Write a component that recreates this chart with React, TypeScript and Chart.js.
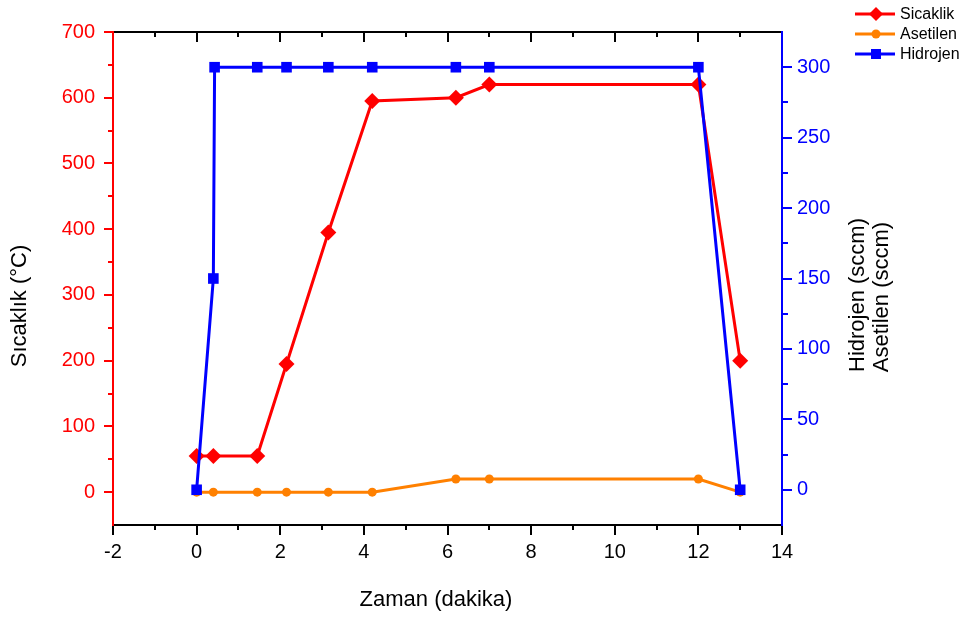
import { useEffect, useRef } from "react";
import { Chart, registerables } from "chart.js";

Chart.register(...registerables);

// ---- data ----
const sicaklikTime = [0, 0.4, 1.45, 2.15, 3.15, 4.2, 6.2, 7, 12, 13];
const sicaklikValues = [55, 55, 55, 195, 395, 595, 600, 620, 620, 200];

const asetilenTime = [0, 0.4, 1.45, 2.15, 3.15, 4.2, 6.2, 7, 12, 13];
const asetilenValues = [0, 0, 0, 0, 0, 0, 20, 20, 20, 0];

const hidrojenTime = [0, 0.4, 0.43, 1.45, 2.15, 3.15, 4.2, 6.2, 7, 12, 13];
const hidrojenValues = [0, 150, 300, 300, 300, 300, 300, 300, 300, 300, 0];

// ---- tick labels ----
const xMajor = [-2, 0, 2, 4, 6, 8, 10, 12, 14];
const xMinor = [-1, 1, 3, 5, 7, 9, 11, 13];
const leftMajor = [0, 100, 200, 300, 400, 500, 600, 700];
const leftMinor = [50, 150, 250, 350, 450, 550, 650];
const rightMajor = [0, 50, 100, 150, 200, 250, 300];
const rightMinor = [25, 75, 125, 175, 225, 275];

const RED = "#FF0000";
const ORANGE = "#FF8000";
const BLUE = "#0000FF";
const FONT = "'Liberation Sans', Arial, sans-serif";

const toPoints = (xs: number[], ys: number[]) => xs.map((x, i) => ({ x, y: ys[i] }));

const framePlugin = {
  id: "frame",
  beforeDatasetsDraw(chart: any) {
    const { ctx, chartArea, scales } = chart;
    const { left, right, top, bottom } = chartArea;
    const line = (x1: number, y1: number, x2: number, y2: number, c: string) => {
      ctx.strokeStyle = c;
      ctx.beginPath();
      ctx.moveTo(x1, y1);
      ctx.lineTo(x2, y2);
      ctx.stroke();
    };
    ctx.save();
    ctx.lineWidth = 2;
    xMajor.forEach((v) => {
      const p = Math.round(scales.x.getPixelForValue(v));
      line(p, bottom, p, bottom + 10, "#000");
      line(p, top, p, top + 10, "#000");
    });
    xMinor.forEach((v) => {
      const p = Math.round(scales.x.getPixelForValue(v));
      line(p, bottom, p, bottom + 5, "#000");
      line(p, top, p, top + 5, "#000");
    });
    leftMajor.forEach((v) => {
      const p = Math.round(scales.y.getPixelForValue(v));
      line(left - 9, p, left, p, RED);
    });
    leftMinor.forEach((v) => {
      const p = Math.round(scales.y.getPixelForValue(v));
      line(left - 5, p, left, p, RED);
    });
    rightMajor.forEach((v) => {
      const p = Math.round(scales.y2.getPixelForValue(v));
      line(right, p, right + 10, p, BLUE);
    });
    rightMinor.forEach((v) => {
      const p = Math.round(scales.y2.getPixelForValue(v));
      line(right, p, right + 6, p, BLUE);
    });
    line(left, top, right, top, "#000");
    line(left, bottom, right, bottom, "#000");
    line(left, top - 1, left, bottom + 1, RED);
    line(right, top - 1, right, bottom + 1, BLUE);
    ctx.restore();
  },
  afterDraw(chart: any) {
    const { ctx } = chart;
    ctx.save();
    ctx.fillStyle = "#000";
    ctx.textAlign = "center";
    ctx.textBaseline = "middle";
    ctx.font = `22px ${FONT}`;
    ctx.fillText("Zaman (dakika)", 436, 600);
    const vtext = (t: string, x: number, y: number) => {
      ctx.save();
      ctx.translate(x, y);
      ctx.rotate(-Math.PI / 2);
      ctx.fillText(t, 0, 0);
      ctx.restore();
    };
    vtext("Sıcaklık (°C)", 20, 306);
    vtext("Hidrojen (sccm)", 858, 295);
    vtext("Asetilen (sccm)", 882, 297);

    // legend
    const rows = [
      { label: "Sicaklik", color: RED, shape: "diamond", y: 14 },
      { label: "Asetilen", color: ORANGE, shape: "circle", y: 34 },
      { label: "Hidrojen", color: BLUE, shape: "square", y: 54 },
    ];
    ctx.font = `16px ${FONT}`;
    ctx.textAlign = "left";
    rows.forEach((r) => {
      ctx.strokeStyle = r.color;
      ctx.fillStyle = r.color;
      ctx.lineWidth = 3;
      ctx.beginPath();
      ctx.moveTo(855, r.y);
      ctx.lineTo(895, r.y);
      ctx.stroke();
      const cx = 876;
      ctx.beginPath();
      if (r.shape === "diamond") {
        ctx.moveTo(cx, r.y - 7);
        ctx.lineTo(cx + 7, r.y);
        ctx.lineTo(cx, r.y + 7);
        ctx.lineTo(cx - 7, r.y);
        ctx.closePath();
      } else if (r.shape === "circle") {
        ctx.arc(cx, r.y, 4.5, 0, Math.PI * 2);
      } else {
        ctx.rect(cx - 5, r.y - 5, 10, 10);
      }
      ctx.fill();
      ctx.fillStyle = "#000";
      ctx.fillText(r.label, 900, r.y + 1);
    });
    ctx.restore();
  },
};

export default function App() {
  const ref = useRef<HTMLCanvasElement>(null);
  useEffect(() => {
    const hiddenGrid = { display: true, drawOnChartArea: false, drawTicks: false };
    const chart = new Chart(ref.current!, {
      type: "line",
      data: {
        datasets: [
          {
            label: "Hidrojen",
            data: toPoints(hidrojenTime, hidrojenValues),
            yAxisID: "y2",
            borderColor: BLUE,
            backgroundColor: BLUE,
            borderWidth: 3,
            pointStyle: "rect",
            pointRadius: 7.5,
            pointBorderWidth: 0,
            order: 0,
          },
          {
            label: "Sicaklik",
            data: toPoints(sicaklikTime, sicaklikValues),
            yAxisID: "y",
            borderColor: RED,
            backgroundColor: RED,
            borderWidth: 3,
            pointStyle: "rectRot",
            pointRadius: 8,
            pointBorderWidth: 0,
            order: 1,
          },
          {
            label: "Asetilen",
            data: toPoints(asetilenTime, asetilenValues),
            yAxisID: "y",
            borderColor: ORANGE,
            backgroundColor: ORANGE,
            borderWidth: 3,
            pointStyle: "circle",
            pointRadius: 4.5,
            pointBorderWidth: 0,
            order: 2,
          },
        ],
      },
      options: {
        responsive: false,
        animation: false,
        layout: { padding: { top: 32, left: 0, right: 0, bottom: 0 } },
        plugins: { legend: { display: false }, tooltip: { enabled: false } },
        events: [],
        scales: {
          x: {
            type: "linear",
            position: "bottom",
            min: -2,
            max: 14,
            afterBuildTicks: (s: any) => {
              s.ticks = xMajor.map((v) => ({ value: v }));
            },
            afterFit: (s: any) => {
              s.height = 92;
            },
            ticks: {
              color: "#000",
              font: { family: FONT, size: 20 },
              padding: 15,
              maxRotation: 0,
              autoSkip: false,
            },
            grid: hiddenGrid,
            border: { display: false },
          },
          y: {
            type: "linear",
            position: "left",
            min: -50,
            max: 700,
            afterBuildTicks: (s: any) => {
              s.ticks = leftMajor.map((v) => ({ value: v }));
            },
            afterFit: (s: any) => {
              s.width = 113;
            },
            ticks: {
              color: RED,
              font: { family: FONT, size: 20 },
              padding: 18,
              autoSkip: false,
            },
            grid: hiddenGrid,
            border: { display: false },
          },
          y2: {
            type: "linear",
            position: "right",
            min: -25,
            max: 325,
            afterBuildTicks: (s: any) => {
              s.ticks = rightMajor.map((v) => ({ value: v }));
            },
            afterFit: (s: any) => {
              s.width = 181;
            },
            ticks: {
              color: BLUE,
              font: { family: FONT, size: 20 },
              padding: 15,
              autoSkip: false,
            },
            grid: hiddenGrid,
            border: { display: false },
          },
        },
      } as any,
      plugins: [framePlugin],
    });
    return () => chart.destroy();
  }, []);
  return (
    <div style={{ position: "fixed", left: 0, top: 0, width: 963, height: 617, background: "#fff" }}>
      <canvas ref={ref} width={963} height={617} style={{ display: "block", width: 963, height: 617 }} />
    </div>
  );
}
